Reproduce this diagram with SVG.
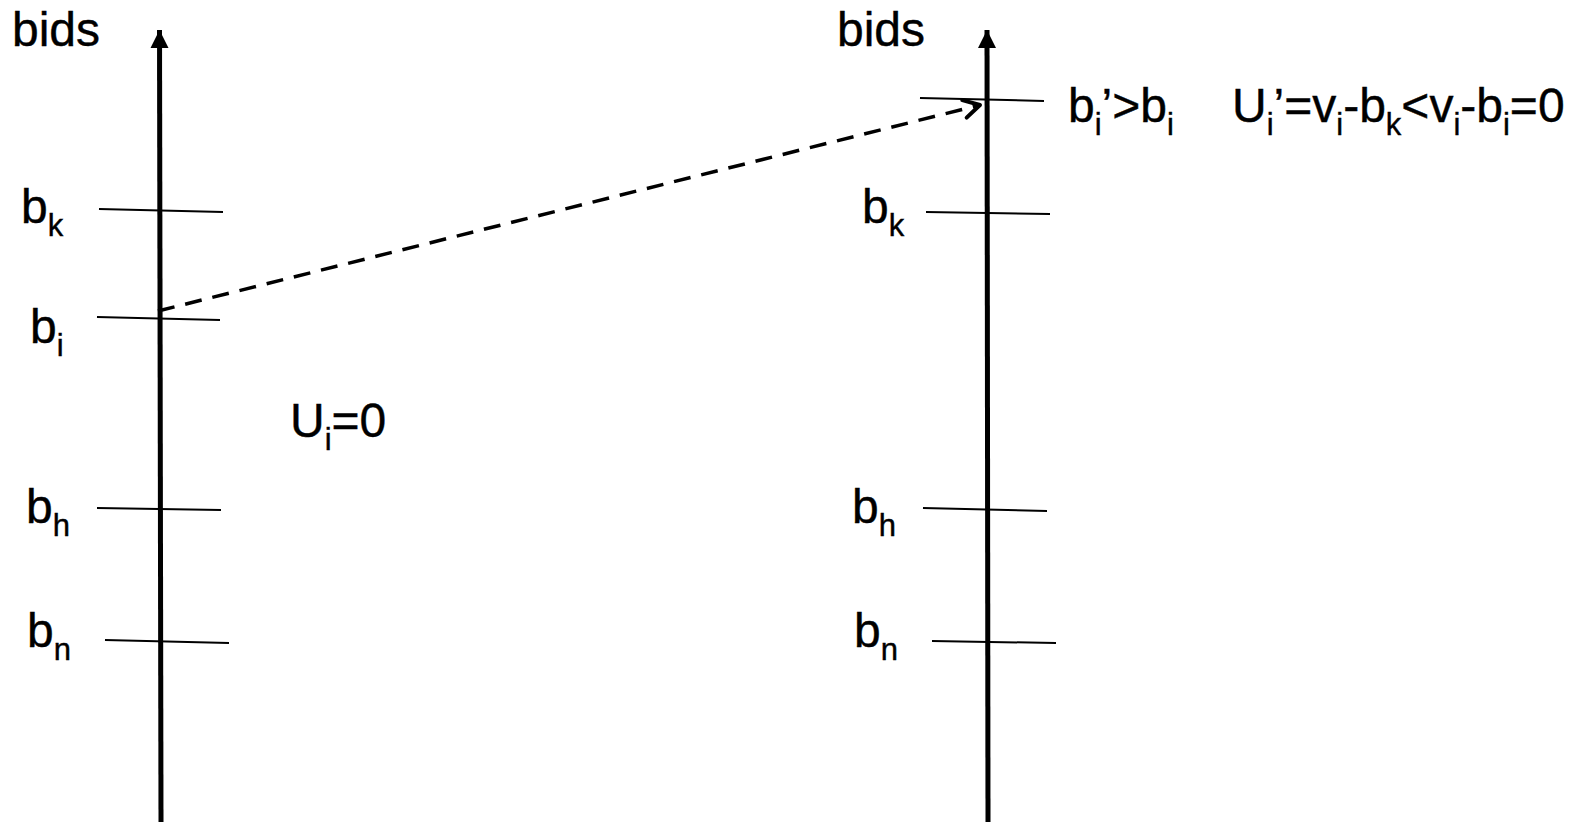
<svg xmlns="http://www.w3.org/2000/svg" width="1587" height="825" viewBox="0 0 1587 825">
  <defs>
    <style>
      .t { font-family: "Liberation Sans", Arial, sans-serif; font-size: 48px; fill: #000; stroke: #000; stroke-width: 0.4px; }
      .s { font-size: 31px; }
      .axis { stroke: #000; stroke-width: 5; fill: none; }
      .tick { stroke: #000; stroke-width: 2; fill: none; }
      .dash { stroke: #000; stroke-width: 3.5; fill: none; stroke-dasharray: 17 11; }
    </style>
    <marker id="head" markerUnits="userSpaceOnUse" markerWidth="20" markerHeight="22" refX="18" refY="9" orient="auto" viewBox="0 0 20 18">
      <path d="M0,0 L18,9 L0,18 Z" fill="#000"/>
    </marker>
    <marker id="open" markerUnits="userSpaceOnUse" markerWidth="24" markerHeight="24" refX="20" refY="12" orient="auto" viewBox="0 0 24 24">
      <path d="M4,3 L20,12 L4,21" fill="none" stroke="#000" stroke-width="4" stroke-linecap="round" stroke-linejoin="round"/>
    </marker>
  </defs>

  <g id="left-axis">
    <line class="axis" x1="161" y1="822" x2="159.5" y2="30" marker-end="url(#head)"/>
    <text class="t" x="12" y="46">bids</text>
  </g>
  <g id="left-bk">
    <line class="tick" x1="99" y1="209" x2="223" y2="212"/>
    <text class="t" x="21" y="223">b<tspan class="s" dy="13">k</tspan></text>
  </g>
  <g id="left-bi">
    <line class="tick" x1="97" y1="317" x2="220" y2="320"/>
    <text class="t" x="30" y="343">b<tspan class="s" dy="13">i</tspan></text>
  </g>
  <g id="left-ui">
    <text class="t" x="290" y="437">U<tspan class="s" dy="13">i</tspan><tspan dy="-13">=0</tspan></text>
  </g>
  <g id="left-bh">
    <line class="tick" x1="97" y1="508" x2="221" y2="510"/>
    <text class="t" x="26" y="523">b<tspan class="s" dy="13">h</tspan></text>
  </g>
  <g id="left-bn">
    <line class="tick" x1="105" y1="640" x2="229" y2="643"/>
    <text class="t" x="27" y="647">b<tspan class="s" dy="13">n</tspan></text>
  </g>

  <g id="right-axis">
    <line class="axis" x1="988" y1="822" x2="987" y2="30" marker-end="url(#head)"/>
    <text class="t" x="837" y="46">bids</text>
  </g>
  <g id="right-bi-prime">
    <line class="tick" x1="920" y1="98" x2="1044" y2="101"/>
    <text class="t" x="1068" y="122">b<tspan class="s" dy="13">i</tspan><tspan dy="-13">’&gt;b</tspan><tspan class="s" dy="13">i</tspan></text>
  </g>
  <g id="right-formula">
    <text class="t" x="1232" y="122">U<tspan class="s" dy="13">i</tspan><tspan dy="-13">’=v</tspan><tspan class="s" dy="13">i</tspan><tspan dy="-13">-b</tspan><tspan class="s" dy="13">k</tspan><tspan dy="-13">&lt;v</tspan><tspan class="s" dy="13">i</tspan><tspan dy="-13">-b</tspan><tspan class="s" dy="13">i</tspan><tspan dy="-13">=0</tspan></text>
  </g>
  <g id="right-bk">
    <line class="tick" x1="926" y1="212" x2="1050" y2="214"/>
    <text class="t" x="862" y="223">b<tspan class="s" dy="13">k</tspan></text>
  </g>
  <g id="right-bh">
    <line class="tick" x1="923" y1="508" x2="1047" y2="511"/>
    <text class="t" x="852" y="523">b<tspan class="s" dy="13">h</tspan></text>
  </g>
  <g id="right-bn">
    <line class="tick" x1="932" y1="641" x2="1056" y2="643"/>
    <text class="t" x="854" y="647">b<tspan class="s" dy="13">n</tspan></text>
  </g>

  <g id="connectors">
    <line class="dash" x1="158" y1="311" x2="980" y2="105" marker-end="url(#open)"/>
  </g>
</svg>
